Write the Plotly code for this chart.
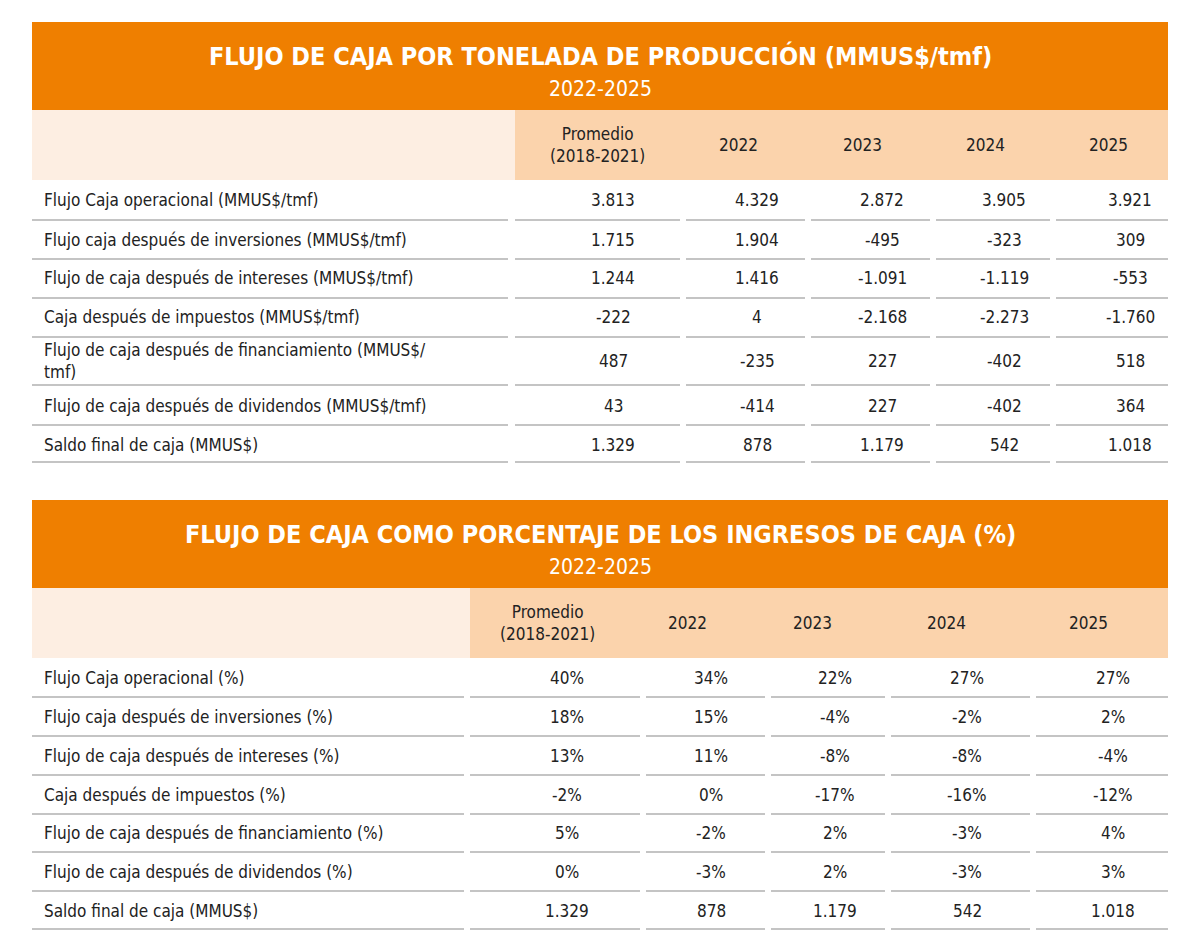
import plotly.graph_objects as go

title1 = "FLUJO DE CAJA POR TONELADA DE PRODUCCIÓN (MMUS$/tmf)"
title2 = "FLUJO DE CAJA COMO PORCENTAJE DE LOS INGRESOS DE CAJA (%)"
subtitle = "2022-2025"
columns = ["Promedio<br>(2018-2021)", "2022", "2023", "2024", "2025"]

rows1 = ["Flujo Caja operacional (MMUS$/tmf)",
         "Flujo caja después de inversiones (MMUS$/tmf)",
         "Flujo de caja después de intereses (MMUS$/tmf)",
         "Caja después de impuestos (MMUS$/tmf)",
         "Flujo de caja después de financiamiento (MMUS$/<br>tmf)",
         "Flujo de caja después de dividendos (MMUS$/tmf)",
         "Saldo final de caja (MMUS$)"]
vals1 = [["3.813", "4.329", "2.872", "3.905", "3.921"],
         ["1.715", "1.904", "-495", "-323", "309"],
         ["1.244", "1.416", "-1.091", "-1.119", "-553"],
         ["-222", "4", "-2.168", "-2.273", "-1.760"],
         ["487", "-235", "227", "-402", "518"],
         ["43", "-414", "227", "-402", "364"],
         ["1.329", "878", "1.179", "542", "1.018"]]

rows2 = ["Flujo Caja operacional (%)",
         "Flujo caja después de inversiones (%)",
         "Flujo de caja después de intereses (%)",
         "Caja después de impuestos (%)",
         "Flujo de caja después de financiamiento (%)",
         "Flujo de caja después de dividendos (%)",
         "Saldo final de caja (MMUS$)"]
vals2 = [["40%", "34%", "22%", "27%", "27%"],
         ["18%", "15%", "-4%", "-2%", "2%"],
         ["13%", "11%", "-8%", "-8%", "-4%"],
         ["-2%", "0%", "-17%", "-16%", "-12%"],
         ["5%", "-2%", "2%", "-3%", "4%"],
         ["0%", "-3%", "2%", "-3%", "3%"],
         ["1.329", "878", "1.179", "542", "1.018"]]

ORANGE = "#EF7F00"
PEACH = "#FBD3AC"
LIGHT = "#FDEEE2"
FONT = "DejaVu Sans Condensed"

fig = go.Figure()
shapes, ann = [], []

def table(top, title, rows, vals, peach_x, hdr_x, val_x, seg, row_y, sep_y):
    shapes.append(dict(type="rect", x0=32, x1=1168, y0=top, y1=top + 88, fillcolor=ORANGE, line_width=0, layer="below"))
    shapes.append(dict(type="rect", x0=32, x1=peach_x, y0=top + 88, y1=top + 158, fillcolor=LIGHT, line_width=0, layer="below"))
    shapes.append(dict(type="rect", x0=peach_x, x1=1168, y0=top + 88, y1=top + 158, fillcolor=PEACH, line_width=0, layer="below"))
    ann.append(dict(x=600, y=top + 34, text="<b>" + title + "</b>", font=dict(size=25, color="white", family=FONT)))
    ann.append(dict(x=600, y=top + 67, text=subtitle, font=dict(size=21, color="white", family=FONT)))
    for c, x in zip(columns, hdr_x):
        ann.append(dict(x=x, y=top + 123, text=c, font=dict(size=17, color="#222", family=FONT)))
    for r, (lab, vs) in enumerate(zip(rows, vals)):
        y = row_y[r]
        ann.append(dict(x=42, y=y, text=lab, xanchor="left", align="left", font=dict(size=17, color="#222", family=FONT)))
        for v, x in zip(vs, val_x):
            ann.append(dict(x=x, y=y, text=v, font=dict(size=17, color="#222", family=FONT)))
        for x0, x1 in seg:
            shapes.append(dict(type="line", x0=x0, x1=x1, y0=sep_y[r], y1=sep_y[r], line=dict(color="#8a8a8a", width=1.2)))

table(22, title1, rows1, vals1, 515,
      [597, 738, 862, 985, 1108], [613, 757, 882, 1004, 1130],
      [(32, 508), (515, 680), (686, 805), (811, 930), (936, 1050), (1056, 1168)],
      [200, 240, 278, 317, 361, 406, 445], [220, 259, 298, 337, 385, 425, 462])
table(500, title2, rows2, vals2, 470,
      [547, 687, 812, 946, 1088], [567, 711, 835, 967, 1113],
      [(32, 464), (470, 640), (646, 765), (771, 885), (891, 1030), (1036, 1168)],
      [678, 717, 756, 795, 833, 872, 911], [697, 736, 775, 814, 852, 891, 929])

for a in ann:
    a.update(xref="x", yref="y", showarrow=False)
    a.setdefault("xanchor", "center")

fig.update_layout(width=1200, height=941, margin=dict(l=0, r=0, t=0, b=0),
                  plot_bgcolor="white", paper_bgcolor="white",
                  xaxis=dict(range=[8, 1208], visible=False, fixedrange=True),
                  yaxis=dict(range=[949, 8], visible=False, fixedrange=True),
                  shapes=shapes, annotations=ann, showlegend=False)
fig.write_html("out.html")
